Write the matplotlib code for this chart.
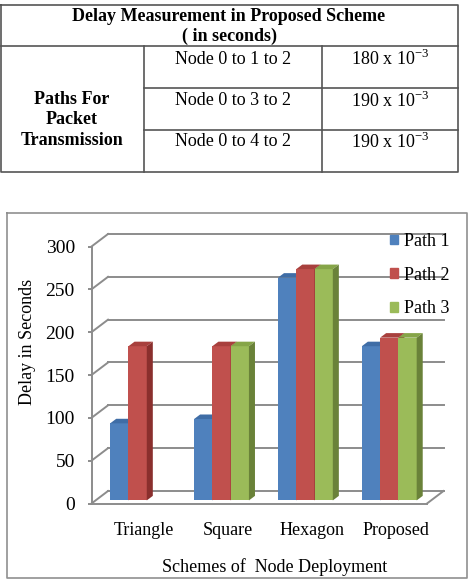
import matplotlib
matplotlib.use("Agg")
import matplotlib.pyplot as plt
from matplotlib.patches import Polygon, Patch
import numpy as np

plt.rcParams['font.family'] = ['Liberation Serif', 'DejaVu Serif']
plt.rcParams['mathtext.fontset'] = 'custom'
plt.rcParams['mathtext.rm'] = 'Liberation Serif'

# table content
table_title = "Delay Measurement in Proposed Scheme\n( in seconds)"
row_header = "Paths For\nPacket\nTransmission"
paths = ["Node 0 to 1 to 2", "Node 0 to 3 to 2", "Node 0 to 4 to 2"]
delays = ["180", "190", "190"]

# chart data
schemes = ["Triangle", "Square", "Hexagon", "Proposed"]
series = ["Path 1", "Path 2", "Path 3"]
path1 = [90, 95, 260, 180]
path2 = [180, 180, 270, 190]
path3 = [0, 180, 270, 190]
yticks = [0, 50, 100, 150, 200, 250, 300]

colors = ["#4F81BD", "#C0504D", "#9BBB59"]
tops = ["#3F6DA6", "#A8403D", "#86A548"]
sides = ["#375C8C", "#8A2F2D", "#6A8239"]
grid_c = "#8C8C8C"

W, H = 469, 583
fig = plt.figure(figsize=(W / 100, H / 100), dpi=100)

# ---- table drawn in pixel coordinates on an overlay axes ----
bg = fig.add_axes([0, 0, 1, 1])
bg.set_xlim(0, W)
bg.set_ylim(H, 0)
bg.axis('off')

lc = "#555555"
bg.plot([0.5, 458, 458, 0.5, 0.5], [5, 5, 172, 172, 5], color=lc, lw=1.2)
bg.plot([0.5, 458], [45.5, 45.5], color=lc, lw=1.2)
for yy in [88, 130]:
    bg.plot([144, 458], [yy, yy], color=lc, lw=1.2)
for xx in [144, 322]:
    bg.plot([xx, xx], [45.5, 172], color=lc, lw=1.2)

bg.text(229, 26.5, table_title, ha='center', va='center', fontsize=13,
        fontweight='bold', linespacing=1.2)
bg.text(72, 120, row_header, ha='center', va='center', fontsize=13,
        fontweight='bold', linespacing=1.3)
for i, (p, d) in enumerate(zip(paths, delays)):
    y = 59 + i * 41.5
    bg.text(233, y, p, ha='center', va='center', fontsize=13)
    bg.text(390, y, d + " x 10$^{\\mathregular{-3}}$", ha='center',
            va='center', fontsize=13)

# chart frame
bg.plot([7, 467, 467, 7, 7], [213, 213, 578, 578, 213], color="#909090", lw=1.2)

# ---- pseudo 3D bar chart ----
ax = fig.add_axes([91.5 / W, 1 - 503.5 / H, 335.5 / W, 257 / H])
ax.set_xlim(-0.5, 3.5)
ax.set_ylim(0, 300)
ax.patch.set_alpha(0)

Dx, Dy = 0.197, 14.6          # depth of the back wall in data units
bx, by = 0.05, 3.6            # where the bar front faces sit
ddx, ddy = 0.072, 5.3         # depth of each bar
w = 0.218

# walls and gridlines
for t in yticks:
    ax.plot([-0.5 + Dx, 3.5 + Dx], [t + Dy, t + Dy], color=grid_c, lw=1.4,
            clip_on=False, zorder=1)
    ax.plot([-0.5, -0.5 + Dx], [t, t + Dy], color=grid_c, lw=1.4,
            clip_on=False, zorder=1)
ax.plot([3.5, 3.5 + Dx], [0, Dy], color=grid_c, lw=1.4, clip_on=False, zorder=1)

xs = np.arange(len(schemes))
data = [path1, path2, path3]
z = 3
for g in range(len(schemes)):
    for s in range(len(series)):
        v = data[s][g]
        if v <= 0:
            continue
        x0 = xs[g] + (s - 1) * w - w / 2 + bx
        ax.bar(x0, v, width=w, bottom=by, align='edge', color=colors[s],
               lw=0, zorder=z)
        x1 = x0 + w
        top = by + v
        ax.add_patch(Polygon([(x0, top), (x1, top), (x1 + ddx, top + ddy),
                              (x0 + ddx, top + ddy)], closed=True,
                             fc=tops[s], lw=0, zorder=z, clip_on=False))
        ax.add_patch(Polygon([(x1, by), (x1 + ddx, by + ddy),
                              (x1 + ddx, top + ddy), (x1, top)], closed=True,
                             fc=sides[s], lw=0, zorder=z, clip_on=False))
        z += 1

for sp in ['top', 'right']:
    ax.spines[sp].set_visible(False)
for sp in ['left', 'bottom']:
    ax.spines[sp].set_color(grid_c)
    ax.spines[sp].set_linewidth(1.4)
    ax.spines[sp].set_zorder(2)

ax.set_yticks(yticks)
ax.tick_params(axis='y', length=3, color=grid_c, width=1.4, pad=9,
               labelsize=14)
ax.set_xticks(xs + 0.13)
ax.set_xticklabels(schemes)
ax.tick_params(axis='x', length=0, pad=13, labelsize=13)

fig.text(27 / W, 1 - 342 / H, "Delay in Seconds", rotation=90, ha='center',
         va='center', fontsize=13)
fig.text(275 / W, 1 - 567 / H, "Schemes of  Node Deployment", ha='center',
         va='center', fontsize=13)

handles = [Patch(color=c, label=l) for c, l in zip(colors, series)]
fig.legend(handles=handles, loc='upper left',
           bbox_to_anchor=(390 / W, 1 - 233 / H), frameon=False,
           fontsize=13, handlelength=0.45, handleheight=0.45,
           handletextpad=0.35, labelspacing=0.92, borderpad=0,
           borderaxespad=0)

fig.savefig("out.png", dpi=100)
